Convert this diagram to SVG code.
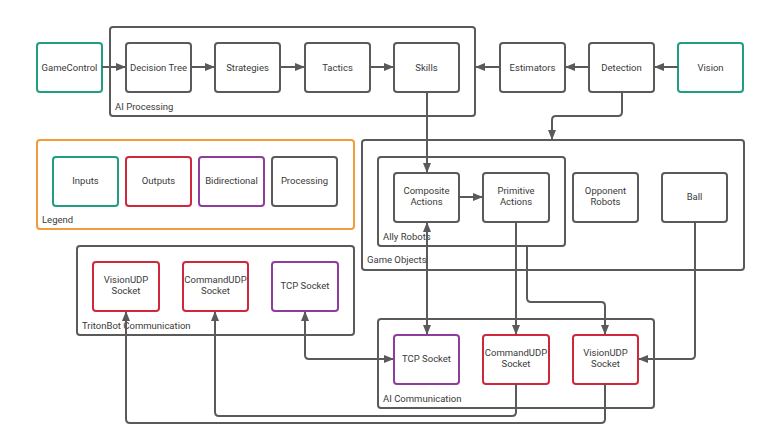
<svg xmlns="http://www.w3.org/2000/svg" width="782" height="447" viewBox="0 0 782 447">
<style>
.n{fill:#fff;stroke:#5a5a5a;stroke-width:2}
.g{stroke:#1f9e82}.r{stroke:#d0273d}.p{stroke:#8d3e9c}
.c{fill:none;stroke:#5a5a5a;stroke-width:2}
.o{fill:none;stroke:#f29d38;stroke-width:2}
text{font-family:Roboto,"Liberation Sans",sans-serif;font-size:9.5px;fill:#3a3a3a;text-anchor:middle}
.l{text-anchor:start}
.e{fill:none;stroke:#5a5a5a;stroke-width:2}
</style>
<defs><marker id="a" viewBox="0 0 10 10" refX="9" refY="5" markerWidth="5" markerHeight="5" orient="auto-start-reverse"><path d="M0,1L10,5L0,9z" fill="#5a5a5a"/></marker></defs>
<rect width="782" height="447" fill="#fff"/>
<g id="containers">
<rect x="110" y="27" width="365" height="89" rx="3" class="c"/><text x="115" y="110" class="l">AI Processing</text>
<rect x="37" y="140" width="317" height="89" rx="3" class="o"/><text x="42" y="223" class="l">Legend</text>
<rect x="362" y="140" width="382" height="130" rx="3" class="c"/><text x="367" y="263" class="l">Game Objects</text>
<rect x="378" y="157" width="187" height="89" rx="3" class="c"/><text x="383" y="240" class="l">Ally Robots</text>
<rect x="77" y="246" width="277" height="89" rx="3" class="c"/><text x="82" y="329" class="l">TritonBot Communication</text>
<rect x="378" y="319" width="276" height="89" rx="3" class="c"/><text x="383" y="402" class="l">AI Communication</text>
</g>
<g id="GameControl"><rect x="37" y="43" width="65" height="49" rx="3" class="n g"/><text x="69.5" y="71">GameControl</text></g>
<g id="DecisionTree"><rect x="126" y="43" width="65" height="49" rx="3" class="n"/><text x="158.5" y="71">Decision Tree</text></g>
<g id="Strategies"><rect x="215" y="43" width="65" height="49" rx="3" class="n"/><text x="247.5" y="71">Strategies</text></g>
<g id="Tactics"><rect x="305" y="43" width="65" height="49" rx="3" class="n"/><text x="337.5" y="71">Tactics</text></g>
<g id="Skills"><rect x="394" y="43" width="65" height="49" rx="3" class="n"/><text x="426.5" y="71">Skills</text></g>
<g id="Estimators"><rect x="500" y="43" width="65" height="49" rx="3" class="n"/><text x="532.5" y="71">Estimators</text></g>
<g id="Detection"><rect x="589" y="43" width="65" height="49" rx="3" class="n"/><text x="621.5" y="71">Detection</text></g>
<g id="Vision"><rect x="678" y="43" width="65" height="49" rx="3" class="n g"/><text x="710.5" y="71">Vision</text></g>
<g id="Inputs"><rect x="53" y="157" width="65" height="49" rx="3" class="n g"/><text x="85.5" y="184">Inputs</text></g>
<g id="Outputs"><rect x="126" y="157" width="65" height="49" rx="3" class="n r"/><text x="158.5" y="184">Outputs</text></g>
<g id="Bidirectional"><rect x="199" y="157" width="65" height="49" rx="3" class="n p"/><text x="231.5" y="184">Bidirectional</text></g>
<g id="Processing"><rect x="272" y="157" width="65" height="49" rx="3" class="n"/><text x="304.5" y="184">Processing</text></g>
<g id="CompositeActions"><rect x="394" y="173" width="65" height="49" rx="3" class="n"/><text x="426.5" y="194">Composite</text><text x="426.5" y="205">Actions</text></g>
<g id="PrimitiveActions"><rect x="483" y="173" width="66" height="49" rx="3" class="n"/><text x="516" y="194">Primitive</text><text x="516" y="205">Actions</text></g>
<g id="OpponentRobots"><rect x="573" y="173" width="65" height="49" rx="3" class="n"/><text x="605.5" y="194">Opponent</text><text x="605.5" y="205">Robots</text></g>
<g id="Ball"><rect x="662" y="173" width="65" height="49" rx="3" class="n"/><text x="694.5" y="200">Ball</text></g>
<g id="TB_VisionUDP"><rect x="93" y="262" width="66" height="49" rx="3" class="n r"/><text x="126" y="283">VisionUDP</text><text x="126" y="294">Socket</text></g>
<g id="TB_CommandUDP"><rect x="183" y="262" width="65" height="49" rx="3" class="n r"/><text x="215.5" y="283">CommandUDP</text><text x="215.5" y="294">Socket</text></g>
<g id="TB_TCP"><rect x="272" y="262" width="66" height="49" rx="3" class="n p"/><text x="305" y="289">TCP Socket</text></g>
<g id="AI_TCP"><rect x="394" y="335" width="65" height="49" rx="3" class="n p"/><text x="426.5" y="362">TCP Socket</text></g>
<g id="AI_CommandUDP"><rect x="483" y="335" width="66" height="49" rx="3" class="n r"/><text x="516" y="356">CommandUDP</text><text x="516" y="367">Socket</text></g>
<g id="AI_VisionUDP"><rect x="573" y="335" width="65" height="49" rx="3" class="n r"/><text x="605.5" y="356">VisionUDP</text><text x="605.5" y="367">Socket</text></g>
<g id="connectors">
<path class="e" d="M102,67H125" marker-end="url(#a)"/>
<path class="e" d="M191,67H214" marker-end="url(#a)"/>
<path class="e" d="M280,67H304" marker-end="url(#a)"/>
<path class="e" d="M370,67H393" marker-end="url(#a)"/>
<path class="e" d="M500,67H476" marker-end="url(#a)"/>
<path class="e" d="M589,67H566" marker-end="url(#a)"/>
<path class="e" d="M678,67H655" marker-end="url(#a)"/>
<path class="e" d="M622,92V112Q622,116 618,116H556Q552,116 552,120V139" marker-end="url(#a)"/>
<path class="e" d="M427,92V172" marker-end="url(#a)"/>
<path class="e" d="M459,197H482" marker-end="url(#a)"/>
<path class="e" d="M427,223V334" marker-start="url(#a)" marker-end="url(#a)"/>
<path class="e" d="M516,222V334" marker-end="url(#a)"/>
<path class="e" d="M527,246V298Q527,302 531,302H601Q605,302 605,306V334" marker-end="url(#a)"/>
<path class="e" d="M695,222V355Q695,359 691,359H639" marker-end="url(#a)"/>
<path class="e" d="M305,312V355Q305,359 309,359H393" marker-start="url(#a)" marker-end="url(#a)"/>
<path class="e" d="M516,384V412Q516,416 512,416H219Q215,416 215,412V312" marker-end="url(#a)"/>
<path class="e" d="M605,384V419Q605,423 601,423H130Q126,423 126,419V312" marker-end="url(#a)"/>
</g>
</svg>
